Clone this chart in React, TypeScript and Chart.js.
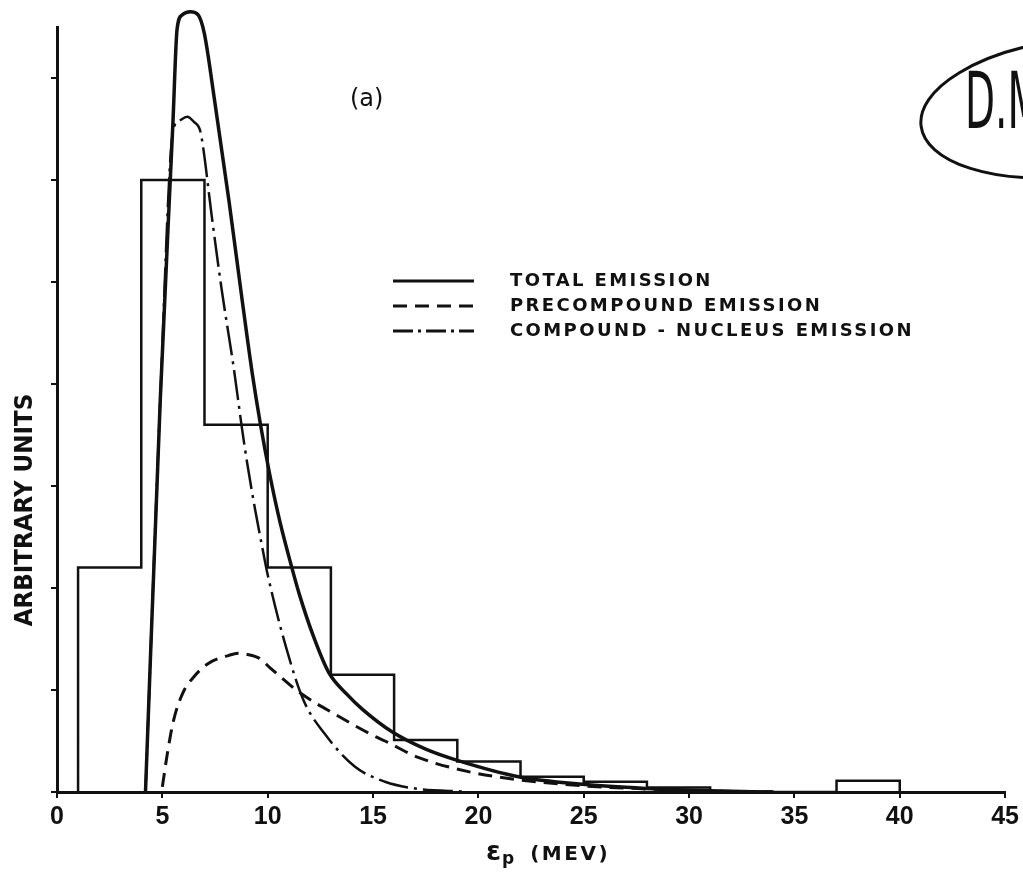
import React, { useEffect, useRef } from 'react';
import { Chart, registerables } from 'chart.js';

Chart.register(...registerables);

// ---- data ----
const xTickValues = [0, 5, 10, 15, 20, 25, 30, 35, 40, 45];
const yTickValues = [0, 1, 2, 3, 4, 5, 6, 7];

const binEdges = [1, 4, 7, 10, 13, 16, 19, 22, 25, 28, 31, 34, 37, 40];
const binHeights = [2.2, 6.0, 3.6, 2.2, 1.15, 0.51, 0.3, 0.15, 0.1, 0.045, 0, 0, 0.11];

const totalX = [4.2, 4.9, 5.5, 5.7, 5.95, 6.33, 6.7, 6.99, 7.48, 8.16, 8.79, 9.27, 9.66, 10.1, 10.58, 11.12, 11.5, 12.2, 12.9, 13.8, 14.5, 15.9, 17.5, 19.0, 21.9, 24.95, 27.98, 31, 34];
const totalY = [0, 3.84, 6.55, 7.48, 7.62, 7.65, 7.62, 7.44, 6.78, 5.8, 4.82, 4.1, 3.6, 3.11, 2.65, 2.22, 1.94, 1.51, 1.17, 0.95, 0.81, 0.59, 0.42, 0.31, 0.15, 0.075, 0.035, 0.012, 0];

const precompoundX = [5.0, 5.24, 5.53, 5.97, 6.5, 7.18, 8.16, 8.6, 9.0, 9.61, 10.1, 11.55, 13.3, 14.95, 15.57, 17.14, 19.52, 21.9, 25, 28, 31, 34];
const precompoundY = [0.05, 0.38, 0.7, 0.97, 1.13, 1.26, 1.34, 1.36, 1.35, 1.31, 1.22, 0.97, 0.75, 0.56, 0.5, 0.34, 0.2, 0.12, 0.06, 0.03, 0.01, 0];

const compoundX = [4.2, 4.9, 5.5, 5.8, 6.18, 6.5, 6.8, 6.95, 7.33, 7.82, 8.38, 8.79, 9.03, 9.42, 9.76, 10.0, 10.87, 11.7, 12.67, 14.13, 15.57, 17.14, 19.3];
const compoundY = [0, 3.84, 6.47, 6.58, 6.62, 6.57, 6.48, 6.3, 5.67, 4.92, 4.17, 3.55, 3.22, 2.75, 2.38, 2.13, 1.42, 0.9, 0.58, 0.25, 0.1, 0.03, 0.005];

const seriesLabels = ['TOTAL EMISSION', 'PRECOMPOUND EMISSION', 'COMPOUND - NUCLEUS EMISSION'];
const yTitle = 'ARBITRARY UNITS';
const xTitleSymbol = 'ε';
const xTitleSub = 'p';
const xTitleRest = '(MEV)';
const panelLabel = '(a)';
const signatureText = 'D.M';

const toPoints = (xs: number[], ys: number[]) => xs.map((x, i) => ({ x, y: ys[i] }));

// stepped 'before': horizontal at the previous value, then vertical at the next edge
const histogramPoints = (() => {
  const pts: { x: number; y: number }[] = [{ x: binEdges[0], y: 0 }];
  binHeights.forEach((h, i) => pts.push({ x: binEdges[i], y: h }));
  pts.push({ x: binEdges[binEdges.length - 1], y: 0 });
  return pts;
})();

const INK = '#111';

const annotationPlugin = {
  id: 'annotations',
  afterDraw(chart: any) {
    const ctx: any = chart.ctx;
    ctx.save();
    ctx.fillStyle = INK;
    ctx.strokeStyle = INK;

    // y title
    ctx.save();
    ctx.translate(25, 510);
    ctx.rotate(-Math.PI / 2);
    ctx.scale(0.92, 1);
    ctx.font = 'bold 25px "DejaVu Sans", sans-serif';
    ctx.textAlign = 'center';
    ctx.textBaseline = 'middle';
    ctx.fillText(yTitle, 0, 0);
    ctx.restore();

    // x title with subscript
    ctx.save();
    ctx.textBaseline = 'alphabetic';
    ctx.textAlign = 'left';
    const baseY = 860;
    let x = 486;
    ctx.font = 'bold 27px "DejaVu Sans", sans-serif';
    ctx.fillText(xTitleSymbol, x, baseY);
    x += ctx.measureText(xTitleSymbol).width + 1;
    ctx.font = 'bold 17px "DejaVu Sans", sans-serif';
    ctx.fillText(xTitleSub, x, baseY + 4);
    x += ctx.measureText(xTitleSub).width + 16;
    ctx.font = 'bold 20px "DejaVu Sans", sans-serif';
    ctx.letterSpacing = '2.5px';
    ctx.fillText(xTitleRest, x, baseY);
    ctx.restore();

    // panel label
    ctx.save();
    ctx.font = '24px "DejaVu Sans", sans-serif';
    ctx.textBaseline = 'middle';
    ctx.fillText(panelLabel, 350, 100);
    ctx.restore();

    // legend
    const rows = [281, 306, 331];
    const datasets = chart.data.datasets.filter((d: any) => d.label);
    datasets.forEach((d: any, i: number) => {
      const y = rows[i];
      ctx.save();
      ctx.lineWidth = 3;
      ctx.setLineDash(d.legendDash || []);
      ctx.beginPath();
      ctx.moveTo(393, y);
      ctx.lineTo(474, y);
      ctx.stroke();
      ctx.restore();
      ctx.save();
      ctx.font = 'bold 18px "DejaVu Sans", sans-serif';
      ctx.letterSpacing = '2.4px';
      ctx.textBaseline = 'middle';
      ctx.fillText(d.label, 510, y);
      ctx.restore();
    });

    // circled signature in the top right corner
    ctx.save();
    ctx.lineWidth = 3;
    ctx.beginPath();
    ctx.ellipse(1070, 108, 150, 68, -0.12, 0, Math.PI * 2);
    ctx.stroke();
    ctx.translate(965, 128);
    ctx.scale(0.5, 1);
    ctx.font = '78px "DejaVu Sans", sans-serif';
    ctx.textBaseline = 'alphabetic';
    ctx.fillText(signatureText, 0, 0);
    ctx.restore();

    ctx.restore();
  },
};

export default function App() {
  const ref = useRef<HTMLCanvasElement>(null);

  useEffect(() => {
    const canvas = ref.current!;
    const tickFont = { family: '"Liberation Sans", Arial, sans-serif', size: 25, weight: 'bold' as const };
    const chart = new Chart(canvas, {
      type: 'line',
      data: {
        datasets: [
          {
            label: '',
            data: histogramPoints,
            stepped: 'before',
            borderColor: INK,
            borderWidth: 2.5,
            pointRadius: 0,
            fill: false,
          } as any,
          {
            label: seriesLabels[0],
            data: toPoints(totalX, totalY),
            borderColor: INK,
            borderWidth: 3.5,
            pointRadius: 0,
            cubicInterpolationMode: 'monotone',
            clip: false,
            legendDash: [],
          } as any,
          {
            label: seriesLabels[1],
            data: toPoints(precompoundX, precompoundY),
            borderColor: INK,
            borderWidth: 3,
            borderDash: [14, 8],
            pointRadius: 0,
            cubicInterpolationMode: 'monotone',
            clip: false,
            legendDash: [14, 8],
          } as any,
          {
            label: seriesLabels[2],
            data: toPoints(compoundX, compoundY),
            borderColor: INK,
            borderWidth: 2.5,
            borderDash: [30, 6, 3, 6],
            pointRadius: 0,
            cubicInterpolationMode: 'monotone',
            clip: false,
            legendDash: [20, 5, 3, 5],
          } as any,
        ],
      },
      options: {
        responsive: false,
        animation: false,
        devicePixelRatio: 1,
        layout: { padding: { left: 0, top: 27, right: 13, bottom: 0 } },
        plugins: { legend: { display: false }, tooltip: { enabled: false }, title: { display: false } },
        scales: {
          x: {
            type: 'linear',
            min: 0,
            max: 45,
            afterBuildTicks: (scale: any) => {
              scale.ticks = xTickValues.map((v) => ({ value: v }));
            },
            afterFit: (scale: any) => {
              scale.height = 81;
            },
            ticks: { color: INK, font: tickFont, padding: 4, maxRotation: 0, autoSkip: false },
            grid: { drawOnChartArea: false, drawTicks: true, tickLength: 6, color: INK, lineWidth: 2 },
            border: { display: true, color: INK, width: 3 },
          },
          y: {
            type: 'linear',
            min: 0,
            max: 7.5,
            afterBuildTicks: (scale: any) => {
              scale.ticks = yTickValues.map((v) => ({ value: v }));
            },
            afterFit: (scale: any) => {
              scale.width = 57;
            },
            ticks: { display: false },
            grid: { drawOnChartArea: false, drawTicks: true, tickLength: 6, color: INK, lineWidth: 2 },
            border: { display: true, color: INK, width: 3 },
          },
        },
      } as any,
      plugins: [annotationPlugin],
    });
    return () => chart.destroy();
  }, []);

  return (
    <div style={{ position: 'fixed', left: 0, top: 0, width: 1023, height: 873, background: '#fff' }}>
      <canvas ref={ref} width={1023} height={873} style={{ display: 'block' }} />
    </div>
  );
}
